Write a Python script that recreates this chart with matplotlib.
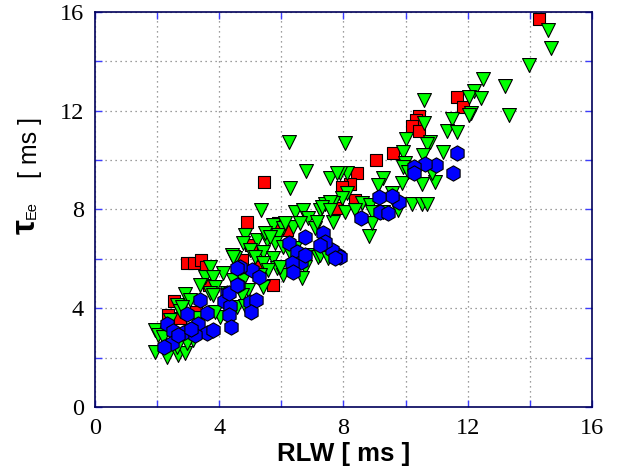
import numpy as np
import matplotlib
matplotlib.use('Agg')
import matplotlib.pyplot as plt
from matplotlib.ticker import MultipleLocator

plt.rcParams['font.family'] = ['Liberation Serif', 'DejaVu Serif']

# RLW [ms] vs tau_Ee [ms], three groups
red_x = [14.3, 11.64, 11.84, 10.43, 10.33, 10.22, 10.42, 9.58, 9.06, 8.44, 8.21, 7.94,
         7.78, 8.37, 5.44, 4.9, 5.03, 2.97, 3.19, 3.41, 3.57, 5.72, 2.54, 2.36, 5.9,
         4.72, 5.31, 2.74, 3.68, 3.25, 6.19]
red_y = [15.7, 12.57, 12.14, 11.8, 11.62, 11.38, 11.17, 10.29, 9.99, 9.48, 9.04, 8.92,
         8.05, 8.38, 9.1, 7.49, 6.55, 5.85, 5.82, 5.95, 5.68, 4.93, 4.29, 3.73, 7.46,
         5.95, 5.68, 3.59, 4.93, 3.86, 7.17]

green_x = [14.6, 14.67, 13.98, 12.5, 13.2, 12.21, 12.05, 12.42, 13.33, 12.11, 12.05, 10.6,
           11.48, 11.32, 11.65, 10.59, 10.01, 10.78, 10.7, 9.93, 10.55, 11.19, 9.98, 9.93,
           10.09, 10.52, 10.95, 10.84, 9.28, 9.12, 9.87, 10.19, 10.52, 10.7, 8.05, 8.1,
           7.89, 8.1, 7.94, 8.59, 8.85, 8.05, 8.37, 8.91, 9.55, 9.77, 8.83, 8.91, 6.26,
           6.79, 6.28, 7.57, 7.78, 5.33, 6.44, 6.71, 7.24, 7.41, 7.65, 7.57, 9.28, 7.67,
           6.87, 5.74, 6.06, 6.36, 6.6, 7.08, 4.83, 4.77, 5.21, 5.53, 5.47, 5.9, 5.8,
           6.06, 6.44, 4.99, 5.42, 4.51, 5.15, 5.74, 5.42, 5.85, 6.06, 5.58, 5.31, 6.76,
           6.81, 7.19, 4.45, 4.77, 4.94, 5.42, 4.72, 4.13, 3.7, 3.54, 3.81, 3.38, 3.86,
           3.7, 2.9, 3.06, 2.63, 2.74, 2.41, 1.93, 2.04, 2.2, 1.93, 2.31, 2.68, 2.9,
           2.63, 4.02, 3.86, 4.24, 4.4, 4.45, 3.81, 2.79, 3.28, 3.16, 2.95, 4.56, 5.63,
           6.12, 7.14, 7.3, 7.57, 5.96, 6.65, 6.28, 7.24, 7.51, 4.83]
green_y = [15.27, 14.53, 13.85, 13.27, 13.01, 12.81, 12.57, 12.5, 11.83, 11.92, 11.83, 12.43,
           11.65, 11.19, 11.15, 11.52, 10.84, 10.75, 10.65, 10.34, 10.21, 10.34, 9.87, 9.73,
           9.53, 9.02, 9.13, 9.46, 9.26, 8.99, 9.08, 8.22, 8.22, 8.22, 10.68, 9.46,
           9.46, 8.65, 8.45, 8.25, 8.18, 7.91, 7.98, 7.91, 8.65, 7.98, 6.93, 7.46, 10.75,
           9.56, 8.86, 9.26, 9.46, 7.98, 7.91, 7.98, 7.98, 8.22, 8.27, 8.32, 7.91, 7.5,
           7.64, 7.37, 7.24, 7.3, 7.44, 7.24, 6.97, 6.63, 6.76, 6.76, 7.03, 6.97, 6.63,
           6.49, 6.42, 6.36, 6.29, 6.02, 6.09, 6.02, 5.82, 5.61, 5.35, 5.55, 5.35, 5.66,
           6.16, 6.09, 5.14, 5.14, 4.74, 4.87, 4.54, 5.41, 5.68, 5.28, 5.28, 4.94, 4.87,
           4.6, 4.58, 4.33, 4.13, 3.9, 3.52, 3.12, 2.92, 2.85, 2.24, 2.04, 2.11, 2.17,
           2.44, 3.65, 3.86, 4.6, 6.16, 6.09, 4.54, 4.06, 3.6, 2.71, 2.58, 4.06, 6.9,
           7.44, 7.5, 8.1, 7.98, 5.68, 5.21, 6.22, 6.16, 6.02, 4.09]

blue_x = [11.64, 11.51, 10.97, 10.62, 10.27, 10.27, 9.8, 9.56, 9.15, 9.18, 9.44, 8.55,
          7.83, 7.62, 7.89, 7.35, 7.41, 7.24, 7.73, 6.76, 6.26, 6.49, 6.62, 6.33, 6.36,
          6.76, 5.05, 5.29, 4.67, 4.61, 4.26, 4.16, 4.35, 4.32, 4.37, 4.99, 5.17, 5.01,
          3.38, 3.62, 2.95, 3.33, 3.6, 3.02, 2.84, 3.22, 2.31, 2.52, 2.47, 2.22, 2.68,
          3.08, 3.81, 4.56, 4.32, 4.58]
blue_y = [10.3, 9.46, 9.81, 9.83, 9.73, 9.46, 8.29, 8.55, 8.52, 7.91, 7.84, 7.64,
          6.16, 6.36, 6.06, 7.03, 6.7, 6.56, 6.02, 6.87, 6.63, 6.29, 5.89, 5.85, 5.48,
          6.16, 5.55, 5.28, 5.68, 4.94, 4.6, 4.31, 4.09, 3.73, 3.23, 4.27, 4.33, 3.86,
          4.33, 3.79, 3.77, 3.36, 2.98, 3.12, 2.98, 2.92, 3.36, 3.09, 2.6, 2.41, 2.93,
          3.15, 3.12, 5.61, 4.63, 4.94]

fig = plt.figure(figsize=(6.18, 4.75), dpi=100)
ax = fig.add_axes([0.1537, 0.1432, 0.8042, 0.8316])

ax.scatter(red_x, red_y, marker='s', s=8**2, c='#ff0000', edgecolors='black', linewidths=0.8, zorder=3)
ax.scatter(green_x, green_y, marker='v', s=10**2, c='#00ff00', edgecolors='black', linewidths=0.8, zorder=4)
ax.scatter(blue_x, blue_y, marker='h', s=11**2, c='#0000ff', edgecolors='black', linewidths=0.8, zorder=5)

ax.set_xlim(0, 16)
ax.set_ylim(0, 16)
for a in (ax.xaxis, ax.yaxis):
    a.set_major_locator(MultipleLocator(4))
    a.set_minor_locator(MultipleLocator(2))
ax.grid(True, which='both', color='#7f7f7f', linestyle=(0, (1, 3)), linewidth=0.9, zorder=0)
ax.set_axisbelow(True)
ax.tick_params(which='both', direction='in', top=True, right=True, color='#3c3cff', length=5, width=1)
ax.tick_params(which='major', labelsize=17.5, pad=8)
for sp in ax.spines.values():
    sp.set_color('#00005a')
    sp.set_linewidth(1.2)

ax.set_xlabel('RLW [ ms ]', family='Liberation Sans', fontweight='bold', fontsize=18.5, labelpad=2)

fig.text(26 / 618, 1 - 227 / 475, '\u03c4', family='Liberation Sans', fontweight='bold',
         fontsize=24, rotation=90, ha='center', va='center')
fig.text(32 / 618, 1 - 210 / 475, 'Ee', family='Liberation Sans', fontsize=10.5,
         rotation=90, ha='center', va='center')
fig.text(30 / 618, 1 - 148 / 475, '[ ms ]', family='Liberation Sans', fontsize=18,
         rotation=90, ha='center', va='center')

fig.savefig('out.png', dpi=100)
